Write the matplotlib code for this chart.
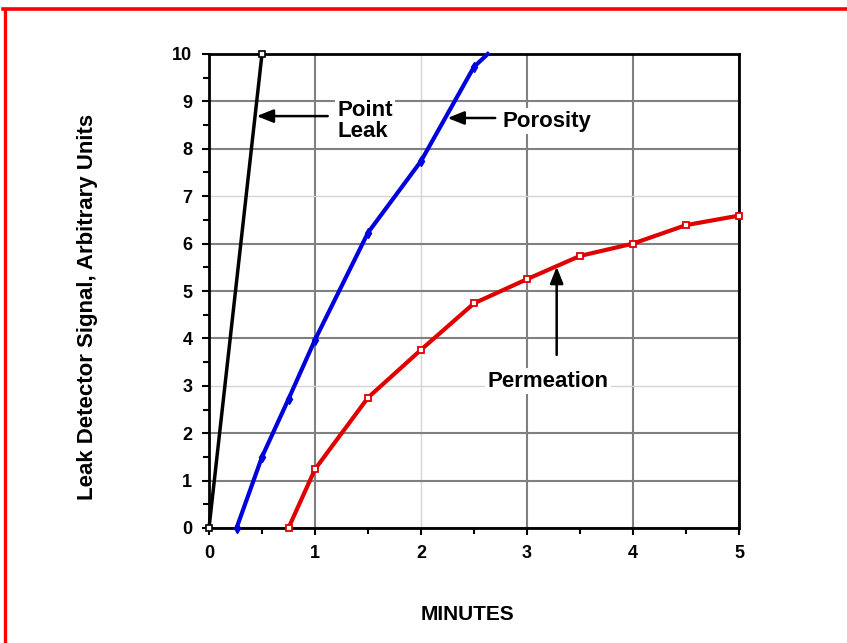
"""
plot.py - leak detector signal vs time for three leak types.
"""
import matplotlib
matplotlib.use("Agg")
import matplotlib.pyplot as plt
from matplotlib.lines import Line2D
from matplotlib.ticker import MultipleLocator

# --- data ---
point_leak_min = [0.0, 0.5]
point_leak_sig = [0.0, 10.0]

porosity_min = [0.26, 0.5, 0.75, 1.0, 1.5, 2.0, 2.5, 2.63]
porosity_sig = [0.0, 1.5, 2.72, 3.97, 6.23, 7.74, 9.73, 10.0]

permeation_min = [0.75, 1.0, 1.5, 2.0, 2.5, 3.0, 3.5, 4.0, 4.5, 5.0]
permeation_sig = [0.0, 1.24, 2.75, 3.76, 4.74, 5.25, 5.74, 6.0, 6.39, 6.59]

x_ticks = [0, 1, 2, 3, 4, 5]
y_ticks = list(range(0, 11))

FONT = ["Liberation Sans", "DejaVu Sans"]
NARROW = ["Liberation Sans Narrow", "Liberation Sans", "DejaVu Sans"]

plt.rcParams["font.family"] = FONT
plt.rcParams["font.weight"] = "bold"

fig = plt.figure(figsize=(8.47, 6.43), dpi=100)
ax = fig.add_axes([209 / 847, 1 - 528 / 643, 530 / 847, 474 / 643])

ax.set_xlim(0, 5)
ax.set_ylim(0, 10)
ax.set_xticks(x_ticks)
ax.set_yticks(y_ticks)
ax.xaxis.set_minor_locator(MultipleLocator(0.5))
ax.yaxis.set_minor_locator(MultipleLocator(0.5))
ax.tick_params(which="both", direction="out", width=1.5, colors="black",
               labelsize=13)
ax.tick_params(which="major", length=5, pad=7)
ax.tick_params(which="minor", length=4)
for lab in ax.get_xticklabels() + ax.get_yticklabels():
    lab.set_fontweight("bold")

ax.grid(True, which="major", color="#808080", lw=1.5)
ax.set_axisbelow(True)
# a few grid lines come out lighter in the original
for i, gl in enumerate(ax.get_xgridlines()):
    if x_ticks[i] == 2:
        gl.set_color("#d4d4d4")
        gl.set_linewidth(1)
for i, gl in enumerate(ax.get_ygridlines()):
    if y_ticks[i] in (3, 7):
        gl.set_color("#d4d4d4")
        gl.set_linewidth(1)

for sp in ax.spines.values():
    sp.set_linewidth(2)
    sp.set_color("black")

ax.plot(point_leak_min, point_leak_sig, color="black", lw=2.5,
        marker="s", ms=5, mfc="white", mec="black", mew=1.2, clip_on=False,
        zorder=4)
ax.plot(porosity_min[:-1], porosity_sig[:-1], color="#0000dd", lw=3,
        marker="d", ms=5, clip_on=False, zorder=4)
ax.plot(porosity_min[-2:], porosity_sig[-2:], color="#0000dd", lw=3,
        clip_on=False, zorder=4)
ax.plot(permeation_min, permeation_sig, color="#e00000", lw=3,
        marker="s", ms=5, mfc="white", mec="#e00000", mew=1.3, clip_on=False,
        zorder=4)

arrow = dict(arrowstyle="-|>,head_length=1.0,head_width=0.4", color="black",
             lw=1.8, shrinkA=0, shrinkB=0)
txt_box = dict(facecolor="white", edgecolor="none", pad=2)

ax.annotate("", xy=(0.45, 8.69), xytext=(1.12, 8.69), arrowprops=arrow,
            zorder=5)
ax.text(1.21, 8.58, "Point\nLeak", fontsize=16, fontweight="bold",
        ha="left", va="center", linespacing=1.0, bbox=txt_box, zorder=5)

ax.annotate("", xy=(2.25, 8.65), xytext=(2.70, 8.65), arrowprops=arrow,
            zorder=5)
ax.text(2.77, 8.58, "Porosity", fontsize=16, fontweight="bold",
        ha="left", va="center", bbox=txt_box, zorder=5)

ax.annotate("", xy=(3.28, 5.51), xytext=(3.28, 3.65), arrowprops=arrow,
            zorder=5)
ax.text(2.63, 3.1, "Permeation", fontsize=16, fontweight="bold",
        ha="left", va="center", bbox=txt_box, zorder=5)

fig.text(88 / 847, 1 - 307 / 643, "Leak Detector Signal, Arbitrary Units",
         rotation=90, ha="center", va="center", fontsize=16,
         fontweight="bold")
fig.text(467 / 847, 1 - 615 / 643, "MINUTES", ha="center", va="center",
         fontsize=15, fontweight="bold", family=NARROW)

# red frame round the figure (right and bottom edges run off the picture)
fig.add_artist(Line2D([4.5 / 847, 4.5 / 847], [0, 1 - 9 / 643],
                      transform=fig.transFigure, color="red", lw=2.4))
fig.add_artist(Line2D([3 / 847, 1], [1 - 9 / 643, 1 - 9 / 643],
                      transform=fig.transFigure, color="red", lw=2.6))

fig.savefig("out.png", dpi=100)
plt.close(fig)
